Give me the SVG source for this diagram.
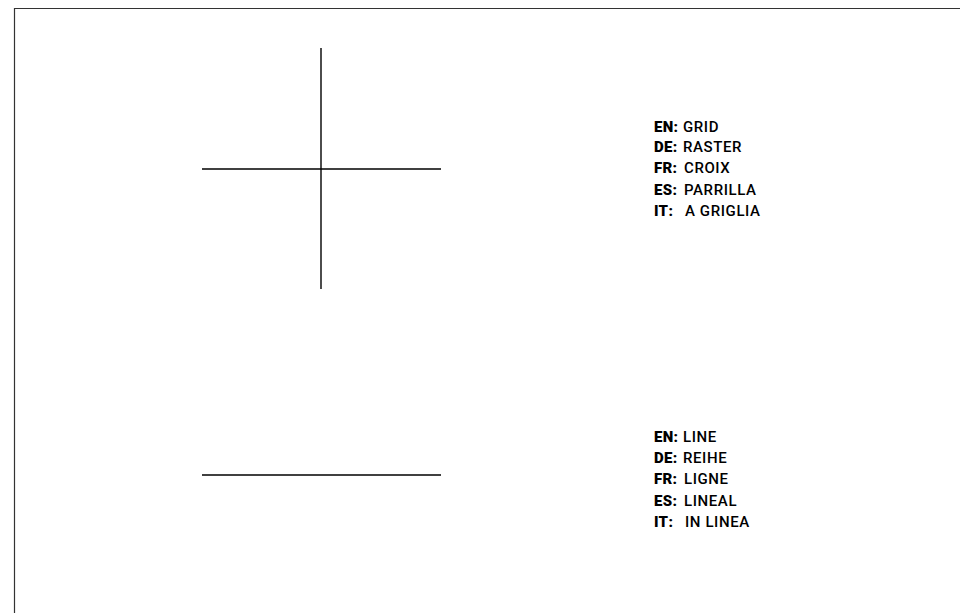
<svg xmlns="http://www.w3.org/2000/svg" width="960" height="613" viewBox="0 0 960 613">
<style>
.ln{stroke:#000;stroke-width:1.4;fill:none}
.frame{stroke:#333;stroke-width:1.2;fill:none}
text{font-family:Roboto,"Liberation Sans",sans-serif;font-size:15px;fill:#000}
.k{font-weight:900;letter-spacing:0.3px}
.v{font-weight:500;letter-spacing:0.6px}
</style>
<rect width="960" height="613" fill="#fff"/>
<path class="frame" d="M14.5,620 V8.5 H960"/>
<g id="grid-symbol">
<line class="ln" x1="321" y1="48" x2="321" y2="289"/>
<line class="ln" x1="202" y1="169" x2="441" y2="169"/>
</g>
<g id="line-symbol">
<line class="ln" x1="202" y1="475" x2="441" y2="475"/>
</g>
<g id="grid-labels">
<text x="654" y="132"><tspan class="k">EN:</tspan><tspan class="v" x="683">GRID</tspan></text>
<text x="654" y="152"><tspan class="k">DE:</tspan><tspan class="v" x="683">RASTER</tspan></text>
<text x="654" y="173"><tspan class="k">FR:</tspan><tspan class="v" x="684">CROIX</tspan></text>
<text x="654" y="195"><tspan class="k">ES:</tspan><tspan class="v" x="684">PARRILLA</tspan></text>
<text x="654" y="216"><tspan class="k">IT:</tspan><tspan class="v" x="685">A GRIGLIA</tspan></text>
</g>
<g id="line-labels">
<text x="654" y="442"><tspan class="k">EN:</tspan><tspan class="v" x="683">LINE</tspan></text>
<text x="654" y="463"><tspan class="k">DE:</tspan><tspan class="v" x="683">REIHE</tspan></text>
<text x="654" y="484"><tspan class="k">FR:</tspan><tspan class="v" x="684">LIGNE</tspan></text>
<text x="654" y="506"><tspan class="k">ES:</tspan><tspan class="v" x="684">LINEAL</tspan></text>
<text x="654" y="527"><tspan class="k">IT:</tspan><tspan class="v" x="685">IN LINEA</tspan></text>
</g>
</svg>
